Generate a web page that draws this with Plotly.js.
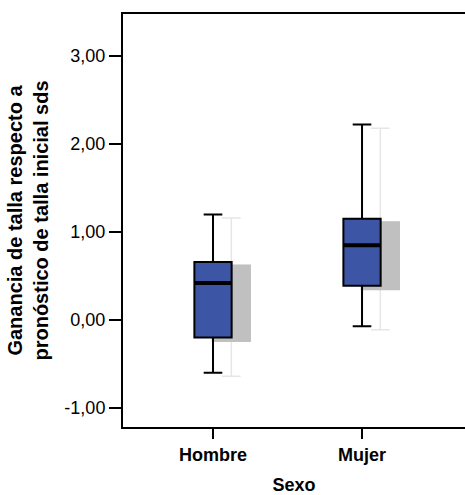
<!DOCTYPE html>
<html>
<head>
<meta charset="utf-8">
<script src="https://cdn.plot.ly/plotly-3.0.1.min.js"></script>
<style>html,body{margin:0;padding:0;background:#fff;}#chart{width:465px;height:495px;}</style>
</head>
<body>
<div id="chart"></div>
<script>
// Data
const categories = ['Hombre', 'Mujer'];
const lowerFence = [-0.60, -0.07];
const q1 = [-0.20, 0.39];
const median = [0.42, 0.85];
const q3 = [0.66, 1.15];
const upperFence = [1.20, 2.22];

const yTickVals = [-1, 0, 1, 2, 3];
const yTickText = ['-1,00', '0,00', '1,00', '2,00', '3,00'];

// Style constants
const FONT = 'Liberation Sans, Arial, sans-serif';
const xRange = [-0.604, 1.691];
const yRange = [-1.216, 3.477];
const shadowDx = 0.123;   // shadow shift in category units (~18 px)
const shadowDy = 0.04;    // shadow shift in value units (~3.5 px)
const boxW = 0.25;

const common = {type: 'box', x: categories, boxpoints: false, hoverinfo: 'skip', width: boxW, whiskerwidth: 0.5};

// Shadow (drawn on base axes, shifted ranges)
const shadowFull = Object.assign({}, common, {
  q1: q1, median: median, q3: q3, lowerfence: lowerFence, upperfence: upperFence,
  fillcolor: '#c0c0c0', line: {color: '#e6e6e6', width: 1.5},
  xaxis: 'x', yaxis: 'y'
});
const shadowBody = Object.assign({}, common, {
  q1: q1, median: median, q3: q3, lowerfence: q1, upperfence: q3,
  fillcolor: '#c0c0c0', line: {color: '#c0c0c0', width: 2},
  xaxis: 'x', yaxis: 'y'
});

// Main boxes (overlay axes)
const mainBox = Object.assign({}, common, {
  q1: q1, median: median, q3: q3, lowerfence: lowerFence, upperfence: upperFence,
  fillcolor: '#3c56a5', line: {color: '#000000', width: 2},
  xaxis: 'x2', yaxis: 'y2'
});
const medianLine = Object.assign({}, common, {
  q1: median, median: median, q3: median, lowerfence: median, upperfence: median,
  fillcolor: 'rgba(0,0,0,0)', line: {color: '#000000', width: 4},
  whiskerwidth: 0,
  xaxis: 'x2', yaxis: 'y2'
});

const layout = {
  width: 465, height: 495,
  margin: {l: 123, r: 0, t: 14, b: 68},
  paper_bgcolor: '#ffffff', plot_bgcolor: 'rgba(0,0,0,0)',
  showlegend: false,
  boxmode: 'overlay',
  font: {family: FONT, color: '#000000', size: 18},
  xaxis: {
    type: 'category', categoryorder: 'array', categoryarray: categories,
    range: [xRange[0] - shadowDx, xRange[1] - shadowDx],
    visible: false, fixedrange: true
  },
  yaxis: {
    range: [yRange[0] + shadowDy, yRange[1] + shadowDy],
    visible: false, fixedrange: true
  },
  xaxis2: {
    type: 'category', categoryorder: 'array', categoryarray: categories,
    overlaying: 'x', anchor: 'y2', side: 'bottom',
    range: xRange, fixedrange: true,
    showline: true, mirror: true, linecolor: '#000000', linewidth: 2,
    ticks: 'outside', ticklen: 10, tickwidth: 2, tickcolor: '#000000',
    showgrid: false, zeroline: false,
    tickfont: {family: FONT, size: 18, weight: 'bold', color: '#000000'},
    title: {text: 'Sexo', font: {family: FONT, size: 18, weight: 'bold', color: '#000000'}, standoff: 25}
  },
  yaxis2: {
    overlaying: 'y', anchor: 'x2', side: 'left',
    range: yRange, fixedrange: true,
    showline: true, mirror: false, linecolor: '#000000', linewidth: 2,
    ticks: 'outside', ticklen: 12, tickwidth: 2, tickcolor: '#000000',
    tickmode: 'array', tickvals: yTickVals, ticktext: yTickText,
    showgrid: false, zeroline: false,
    tickfont: {family: FONT, size: 18, color: '#000000'},
    title: {text: 'Ganancia de talla respecto a<br>pronóstico de talla inicial sds',
            font: {family: FONT, size: 20, weight: 'bold', color: '#000000'}, standoff: 10}
  }
};

Plotly.newPlot('chart', [shadowFull, shadowBody, mainBox, medianLine], layout, {staticPlot: true, displayModeBar: false});
</script>
</body>
</html>
